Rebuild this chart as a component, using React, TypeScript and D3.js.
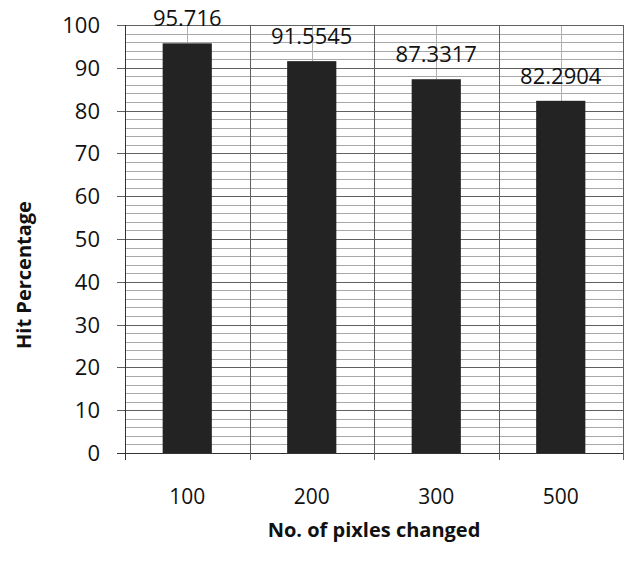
import React from "react";
import * as d3 from "d3";

// Hit percentage per number of changed pixels
const categories = ["100", "200", "300", "500"];
const hitValues = [95.716, 91.5545, 87.3317, 82.2904];
const labelTexts = ["95.716", "91.5545", "87.3317", "82.2904"];
const yTicks = [0, 10, 20, 30, 40, 50, 60, 70, 80, 90, 100];

const width = 631;
const height = 562;
const margin = { top: 25, right: 8, bottom: 109, left: 125 };

export default function App() {
  const innerW = width - margin.left - margin.right;
  const innerH = height - margin.top - margin.bottom;

  const x = d3.scaleBand<string>().domain(categories).range([0, innerW]).padding(0);
  const y = d3.scaleLinear().domain([0, 100]).range([innerH, 0]);
  const barW = x.bandwidth() * 0.395;
  const minorTicks = d3.range(0, 101, 2).filter((v) => v % 10 !== 0);

  const font = "'Open Sans', 'Liberation Sans', sans-serif";

  return (
    <svg width={width} height={height} style={{ position: "absolute", left: 0, top: 0, background: "#fff" }}>
      <rect width={width} height={height} fill="#fff" />
      <g transform={`translate(${margin.left},${margin.top})`}>
        {/* minor horizontal grid */}
        {minorTicks.map((v) => (
          <line key={"mn" + v} x1={0} x2={innerW} y1={Math.round(y(v)) + 0.5} y2={Math.round(y(v)) + 0.5}
            stroke="#a8a8a8" strokeWidth={1} />
        ))}
        {/* minor vertical grid at category centres */}
        {categories.map((c) => (
          <line key={"mv" + c} x1={Math.round(x(c)! + x.bandwidth() / 2) + 0.5} x2={Math.round(x(c)! + x.bandwidth() / 2) + 0.5}
            y1={0} y2={innerH} stroke="#b0b0b0" strokeWidth={1} />
        ))}
        {/* major horizontal grid */}
        {yTicks.map((v) => (
          <line key={"mj" + v} x1={-8} x2={innerW} y1={Math.round(y(v)) + 0.5} y2={Math.round(y(v)) + 0.5}
            stroke={v === 0 ? "#333" : "#606060"} strokeWidth={1} />
        ))}
        {/* vertical grid at category boundaries */}
        {[...categories.map((c) => x(c)!), innerW].map((px, i) => (
          <line key={"vb" + i} x1={Math.round(px) + 0.5} x2={Math.round(px) + 0.5} y1={0} y2={innerH + 7}
            stroke={i === 0 ? "#333" : "#606060"} strokeWidth={1} />
        ))}
        {/* bars */}
        {categories.map((c, i) => (
          <rect key={"b" + c} x={x(c)! + x.bandwidth() / 2 - barW / 2} y={y(hitValues[i])}
            width={barW} height={innerH - y(hitValues[i])} fill="#232323" />
        ))}
        {/* data labels */}
        {categories.map((c, i) => (
          <text key={"l" + c} x={x(c)! + x.bandwidth() / 2} y={y(hitValues[i]) - 17} textAnchor="middle"
            fontFamily={font} fontSize={22} fill="#111">{labelTexts[i]}</text>
        ))}
        {/* y tick labels */}
        {yTicks.map((v) => (
          <text key={"yt" + v} x={-25} y={y(v)} dy="0.36em" textAnchor="end"
            fontFamily={font} fontSize={22} fill="#111">{v}</text>
        ))}
        {/* x tick labels */}
        {categories.map((c) => (
          <text key={"xt" + c} x={x(c)! + x.bandwidth() / 2} y={innerH + 51} textAnchor="middle"
            fontFamily={font} fontSize={21} fill="#111">{c}</text>
        ))}
        <text x={innerW / 2} y={innerH + 84} textAnchor="middle" fontFamily={font} fontSize={20}
          fontWeight="bold" fill="#111">No. of pixles changed</text>
      </g>
      <text transform={`translate(31,275) rotate(-90)`} textAnchor="middle" fontFamily={font} fontSize={20}
        fontWeight="bold" fill="#111">Hit Percentage</text>
    </svg>
  );
}
